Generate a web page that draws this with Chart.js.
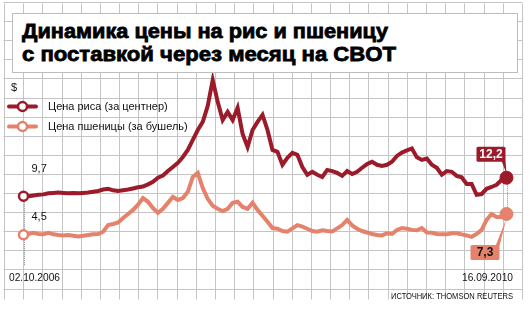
<!DOCTYPE html>
<html>
<head>
<meta charset="utf-8">
<script src="https://cdn.jsdelivr.net/npm/chart.js@4.4.1/dist/chart.umd.min.js"></script>
<style>
    body { margin: 0; background: #fff; }
    #wrap { position: relative; width: 530px; height: 312px; overflow: hidden; font-family: "Liberation Sans", Arial, sans-serif; }
    #c { position: absolute; left: 0; top: 0; }
    .txt { position: absolute; white-space: nowrap; color: #111; transform-origin: 0 0; }
    .titlebox { position: absolute; left: 12px; top: 13px; width: 504px; height: 58px; background: #fff; border: 1px solid #bdbdbd; }
    .title { position: absolute; left: 22px; font-family: "Liberation Sans", Arial, sans-serif; font-weight: bold; font-size: 21px; line-height: 22px; color: #000; transform-origin: 0 0; -webkit-text-stroke: 0.8px #000; }
</style>
</head>
<body>
<div id="wrap">
    <canvas id="c" width="530" height="312"></canvas>
    <div class="titlebox"></div>
    <div class="title fit" style="top:20px" data-w="366">Динамика цены на рис и пшеницу</div>
    <div class="title fit" style="top:43px" data-w="374">с поставкой через месяц на CBOT</div>
    <div class="txt" style="left:11px;top:81px;font-size:11px">$</div>
    <div class="txt" style="left:48px;top:100px;font-size:11px" id="lg1"></div>
    <div class="txt" style="left:48px;top:120px;font-size:11px" id="lg2"></div>
    <div class="txt fit" style="left:9px;top:271px;font-size:11px" data-w="51" id="d1"></div>
    <div class="txt fit" style="left:462px;top:271px;font-size:11px" data-w="51" id="d2"></div>
    <div class="txt fit" style="left:391px;top:290px;font-size:9.5px" data-w="122" id="src"></div>
</div>
<script>
// CBOT, front month, $ (rice per cwt, wheat per bushel), 02.10.2006 .. 16.09.2010
var seriesNames = ['Цена риса (за центнер)', 'Цена пшеницы (за бушель)'];
var firstDate = '02.10.2006';
var lastDate = '16.09.2010';
var sourceText = 'ИСТОЧНИК: THOMSON REUTERS';

var riceValues = [
    9.7, 9.7, 9.8, 9.9, 9.95, 10.1, 10.15, 10.2, 10.15, 10.1,
    10.15, 10.1, 10.15, 10.2, 10.3, 10.4, 10.6, 10.7, 10.5, 10.4,
    10.5, 10.6, 10.75, 10.9, 11.0, 11.3, 11.65, 12.2, 12.5, 13.1,
    13.65, 14.2, 15.0, 15.95, 17.3, 18.65, 19.75, 21.9, 25.4, 22.45,
    20.0, 21.1, 20.0, 21.65, 18.1, 16.35, 18.65, 19.75, 20.7, 18.65,
    15.95, 15.7, 13.95, 14.9, 15.55, 15.3, 13.65, 12.6, 13.0, 12.6,
    12.3, 13.25, 13.1, 12.85, 12.45, 13.1, 12.7, 13.0, 13.55, 14.05,
    14.35, 13.95, 13.8, 13.95, 14.35, 15.15, 15.6, 15.9, 16.15, 14.95,
    14.6, 14.8, 13.95, 13.55, 12.6, 13.1, 13.0, 12.45, 12.25, 11.35,
    11.35, 9.9, 10.0, 10.7, 10.95, 11.25, 11.9, 12.2
];
var wheatValues = [
    4.5, 4.6, 4.75, 4.6, 4.55, 4.75, 4.55, 4.45, 4.4, 4.45,
    4.35, 4.25, 4.35, 4.45, 4.55, 4.6, 4.9, 5.8, 5.95, 6.15,
    6.75, 7.3, 7.85, 8.55, 9.45, 8.95, 8.1, 7.45, 8.0, 8.8,
    9.6, 9.2, 9.45, 10.3, 12.3, 12.85, 10.8, 9.35, 8.4, 8.0,
    7.7, 8.0, 8.8, 8.95, 8.25, 8.0, 8.8, 7.85, 7.05, 6.25,
    5.4, 5.3, 5.0, 4.9, 5.35, 5.8, 5.6, 5.3, 5.0, 4.9,
    5.1, 5.0, 4.95, 5.35, 5.8, 6.5, 5.75, 5.3, 5.0, 4.8,
    4.6, 4.45, 4.4, 4.7, 4.6, 5.15, 5.4, 5.3, 5.15, 5.1,
    5.4, 4.8, 4.75, 4.6, 4.55, 4.55, 4.7, 4.7, 4.55, 4.4,
    4.2, 4.6, 5.15, 6.5, 7.3, 6.9, 6.9, 7.3
];
var riceLabels = ['9,7', '12,2'];
var wheatLabels = ['4,5', '7,3'];

var riceColor = '#9c1b2b';
var wheatColor = '#e4826c';

document.getElementById('lg1').textContent = seriesNames[0];
document.getElementById('lg2').textContent = seriesNames[1];
document.getElementById('d1').textContent = firstDate;
document.getElementById('d2').textContent = lastDate;
document.getElementById('src').textContent = sourceText;

// squeeze text lines to their width in the picture
document.querySelectorAll('.fit').forEach(function (el) {
    var w = el.getBoundingClientRect().width;
    el.style.transform = 'scaleX(' + (Number(el.dataset.w) / w) + ')';
});

function toPoints(arr) {
    return arr.map(function (v, i) { return { x: i, y: v }; });
}

var gridPlugin = {
    id: 'paper',
    beforeDraw: function (chart) {
        var ctx = chart.ctx;
        ctx.save();
        ctx.fillStyle = '#fff';
        ctx.fillRect(0, 0, 530, 312);
        ctx.strokeStyle = '#c4c4c4';
        ctx.lineWidth = 1;
        ctx.beginPath();
        for (var k = 0; k <= 27; k++) {
            var x = Math.round(4 + 19.18 * k) + 0.5;
            ctx.moveTo(x, 3.5); ctx.lineTo(x, 299.5);
        }
        for (var j = 0; j <= 15; j++) {
            var y = Math.round(2 + 19.1 * j) + 0.5;
            if (y > 300) break;
            ctx.moveTo(3.5, y); ctx.lineTo(522.5, y);
        }
        ctx.stroke();
        ctx.restore();
    }
};

function roundBox(ctx, x, y, w, h, r) {
    ctx.beginPath();
    ctx.moveTo(x + r, y);
    ctx.lineTo(x + w - r, y); ctx.quadraticCurveTo(x + w, y, x + w, y + r);
    ctx.lineTo(x + w, y + h - r); ctx.quadraticCurveTo(x + w, y + h, x + w - r, y + h);
    ctx.lineTo(x + r, y + h); ctx.quadraticCurveTo(x, y + h, x, y + h - r);
    ctx.lineTo(x, y + r); ctx.quadraticCurveTo(x, y, x + r, y);
    ctx.closePath();
}

var marksPlugin = {
    id: 'marks',
    beforeDatasetsDraw: function (chart) {
        var ctx = chart.ctx;
        var r = chart.getDatasetMeta(0).data;
        var w = chart.getDatasetMeta(1).data;
        var n = r.length - 1;
        ctx.save();
        ctx.strokeStyle = '#8a8a8a';
        ctx.lineWidth = 1;
        ctx.setLineDash([1, 1]);
        ctx.beginPath();
        ctx.moveTo(Math.round(r[0].x) + 0.5, r[0].y);
        ctx.lineTo(Math.round(r[0].x) + 0.5, 266);
        ctx.moveTo(Math.round(r[n].x) + 0.5, r[n].y);
        ctx.lineTo(Math.round(r[n].x) + 0.5, w[n].y);
        ctx.stroke();
        ctx.restore();
    },
    afterDatasetsDraw: function (chart) {
        var ctx = chart.ctx;
        var r = chart.getDatasetMeta(0).data;
        var w = chart.getDatasetMeta(1).data;
        var n = r.length - 1;
        ctx.save();
        // start values
        ctx.fillStyle = '#111';
        ctx.font = '11px "Liberation Sans", Arial, sans-serif';
        ctx.textBaseline = 'middle';
        ctx.fillText(riceLabels[0], r[0].x + 8, r[0].y - 27);
        ctx.fillText(wheatLabels[0], w[0].x + 8, w[0].y - 18);

        // end value boxes
        ctx.font = 'bold 12px "Liberation Sans", Arial, sans-serif';
        ctx.textAlign = 'center';
        var ex = r[n].x;
        ctx.fillStyle = riceColor;
        roundBox(ctx, ex - 30, r[n].y - 31, 29, 15, 1.5);
        ctx.fill();
        ctx.beginPath();
        ctx.moveTo(ex - 5, r[n].y - 17);
        ctx.lineTo(ex - 1, r[n].y - 17);
        ctx.lineTo(ex, r[n].y - 4);
        ctx.closePath();
        ctx.fill();
        ctx.fillStyle = '#fff';
        ctx.fillText(riceLabels[1], ex - 15.5, r[n].y - 23);

        ctx.fillStyle = wheatColor;
        roundBox(ctx, ex - 36, w[n].y + 31, 29, 15, 1.5);
        ctx.fill();
        ctx.beginPath();
        ctx.moveTo(ex - 11, w[n].y + 32);
        ctx.lineTo(ex - 7, w[n].y + 32);
        ctx.lineTo(ex, w[n].y + 4);
        ctx.closePath();
        ctx.fill();
        ctx.fillStyle = '#111';
        ctx.fillText(wheatLabels[1], ex - 21.5, w[n].y + 39);

        // legend keys
        var keys = [[106.5, riceColor], [126.5, wheatColor]];
        keys.forEach(function (k) {
            ctx.strokeStyle = k[1];
            ctx.lineWidth = 4;
            ctx.lineCap = 'round';
            ctx.beginPath();
            ctx.moveTo(9, k[0]); ctx.lineTo(36, k[0]);
            ctx.stroke();
            ctx.fillStyle = '#fff';
            ctx.lineWidth = 2.5;
            ctx.beginPath();
            ctx.arc(22.5, k[0], 4.5, 0, Math.PI * 2);
            ctx.fill();
            ctx.stroke();
        });
        ctx.restore();
    }
};

function endPoint(ctx) {
    var last = ctx.dataset.data.length - 1;
    return ctx.dataIndex === 0 || ctx.dataIndex === last;
}

new Chart(document.getElementById('c'), {
    type: 'line',
    data: {
        datasets: [
            {
                label: seriesNames[0],
                data: toPoints(riceValues),
                borderColor: riceColor,
                borderWidth: 4,
                tension: 0,
                clip: false,
                pointRadius: function (ctx) { return endPoint(ctx) ? (ctx.dataIndex === 0 ? 4.5 : 6.5) : 0; },
                pointBorderWidth: function (ctx) { return ctx.dataIndex === 0 ? 2.5 : 1; },
                pointBorderColor: riceColor,
                pointBackgroundColor: function (ctx) { return ctx.dataIndex === 0 ? '#fff' : riceColor; }
            },
            {
                label: seriesNames[1],
                data: toPoints(wheatValues),
                borderColor: wheatColor,
                borderWidth: 4,
                tension: 0,
                clip: false,
                pointRadius: function (ctx) { return endPoint(ctx) ? (ctx.dataIndex === 0 ? 4.5 : 6.5) : 0; },
                pointBorderWidth: function (ctx) { return ctx.dataIndex === 0 ? 2.5 : 1; },
                pointBorderColor: wheatColor,
                pointBackgroundColor: function (ctx) { return ctx.dataIndex === 0 ? '#fff' : wheatColor; }
            }
        ]
    },
    options: {
        responsive: false,
        animation: false,
        devicePixelRatio: 1,
        layout: { padding: { left: 23.5, right: 23.5, top: 46, bottom: 44 } },
        scales: {
            x: { type: 'linear', min: 0, max: riceValues.length - 1, display: false },
            y: { type: 'linear', min: 0, max: 30, display: false }
        },
        plugins: { legend: { display: false }, tooltip: { enabled: false } }
    },
    plugins: [gridPlugin, marksPlugin]
});
</script>
</body>
</html>
